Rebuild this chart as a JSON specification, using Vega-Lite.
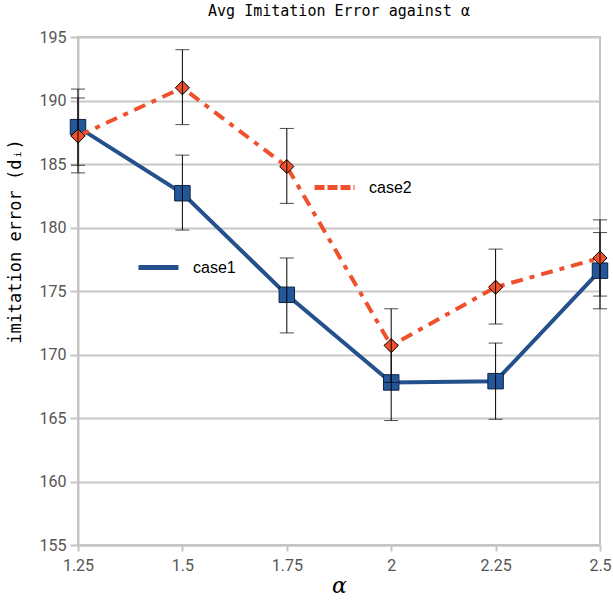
{
  "$schema": "https://vega.github.io/schema/vega-lite/v6.json",
  "width": 522,
  "height": 508,
  "autosize": {"type": "none"},
  "padding": {"left": 78, "top": 37, "right": 13, "bottom": 56},
  "background": "white",
  "config": {
    "view": {"stroke": "#c4c4c4", "strokeWidth": 2},
    "axis": {"labelFont": "Roboto", "labelFontSize": 16, "labelColor": "#555555", "domainColor": "#c4c4c4", "tickColor": "#c4c4c4", "gridColor": "#c8c8c8", "domainWidth": 2, "tickWidth": 2, "gridWidth": 2}
  },
  "title": {"text": "Avg Imitation Error against α", "font": "DejaVu Sans Mono", "fontSize": 15, "fontWeight": "normal", "color": "#000000", "anchor": "middle", "offset": 10},
  "data": {"values": [
    {"alpha": 1.25, "error": 187.9, "lo": 184.9, "hi": 190.9, "case": "case1"},
    {"alpha": 1.5, "error": 182.7, "lo": 179.8, "hi": 185.7, "case": "case1"},
    {"alpha": 1.75, "error": 174.7, "lo": 171.7, "hi": 177.6, "case": "case1"},
    {"alpha": 2.0, "error": 167.8, "lo": 164.8, "hi": 170.8, "case": "case1"},
    {"alpha": 2.25, "error": 167.9, "lo": 164.9, "hi": 170.9, "case": "case1"},
    {"alpha": 2.5, "error": 176.6, "lo": 173.6, "hi": 179.6, "case": "case1"},
    {"alpha": 1.25, "error": 187.2, "lo": 184.3, "hi": 190.2, "case": "case2"},
    {"alpha": 1.5, "error": 191.0, "lo": 188.1, "hi": 194.0, "case": "case2"},
    {"alpha": 1.75, "error": 184.8, "lo": 181.9, "hi": 187.8, "case": "case2"},
    {"alpha": 2.0, "error": 170.7, "lo": 167.8, "hi": 173.6, "case": "case2"},
    {"alpha": 2.25, "error": 175.3, "lo": 172.4, "hi": 178.3, "case": "case2"},
    {"alpha": 2.5, "error": 177.6, "lo": 174.6, "hi": 180.6, "case": "case2"}
  ]},
  "encoding": {
    "x": {"field": "alpha", "type": "quantitative", "scale": {"domain": [1.25, 2.5], "nice": false, "zero": false},
      "axis": {"values": [1.25, 1.5, 1.75, 2, 2.25, 2.5], "labelExpr": "format(datum.value, '.2~f')", "grid": false, "tickSize": 6, "labelPadding": 6, "labelFlush": false,
        "title": "α", "titleFont": "DejaVu Serif", "titleFontStyle": "italic", "titleFontWeight": "normal", "titleFontSize": 22, "titleColor": "#000000", "titlePadding": 2}}
  },
  "layer": [
    {
      "transform": [{"filter": "datum.case === 'case1'"}],
      "layer": [
        {"mark": {"type": "line", "strokeWidth": 4},
         "encoding": {
           "y": {"field": "error", "type": "quantitative", "title": "imitation error (dᵢ)", "scale": {"domain": [155, 195], "nice": false, "zero": false},
             "axis": {"values": [155, 160, 165, 170, 175, 180, 185, 190, 195], "tickSize": 8, "labelPadding": 4,
               "titleFont": "DejaVu Sans Mono", "titleFontSize": 17, "titleFontWeight": "normal", "titleColor": "#000000",
               "titleAngle": -90, "titleX": -63, "titleY": 204, "titleAlign": "center", "titleBaseline": "middle"}},
           "color": {"field": "case", "type": "nominal", "scale": {"range": ["#24508c"]},
             "legend": {"orient": "none", "legendX": 58, "legendY": 208, "title": null, "symbolType": "stroke", "symbolSize": 1600, "symbolStrokeWidth": 5, "labelFont": "Liberation Sans", "labelFontSize": 16, "labelColor": "#000000", "labelOffset": 12, "padding": 0}}
         }},
        {"mark": {"type": "point", "shape": "square", "filled": true, "size": 240, "fill": "#23579a", "stroke": "#0f2440", "strokeWidth": 1, "opacity": 1},
         "encoding": {"y": {"field": "error", "type": "quantitative", "title": "imitation error (dᵢ)"}}},
        {"mark": {"type": "errorbar", "ticks": {"size": 14, "color": "#000000", "thickness": 1}, "color": "#000000", "thickness": 1},
         "encoding": {"y": {"field": "lo", "type": "quantitative", "title": "imitation error (dᵢ)"}, "y2": {"field": "hi"}}}
      ]
    },
    {
      "transform": [{"filter": "datum.case === 'case2'"}],
      "layer": [
        {"mark": {"type": "line", "strokeWidth": 4, "strokeDash": [12, 7, 5, 7]},
         "encoding": {
           "y": {"field": "error", "type": "quantitative", "title": "imitation error (dᵢ)"},
           "color": {"field": "case", "type": "nominal", "scale": {"range": ["#f0502c"]},
             "legend": {"orient": "none", "legendX": 234, "legendY": 128, "title": null, "symbolType": "stroke", "symbolSize": 1600, "symbolStrokeWidth": 5, "symbolDash": [10, 3], "labelFont": "Liberation Sans", "labelFontSize": 16, "labelColor": "#000000", "labelOffset": 12, "padding": 0}}
         }},
        {"mark": {"type": "point", "shape": "diamond", "filled": true, "size": 200, "fill": "#f0502c", "stroke": "#000000", "strokeWidth": 1, "opacity": 1},
         "encoding": {"y": {"field": "error", "type": "quantitative", "title": "imitation error (dᵢ)"}}},
        {"mark": {"type": "errorbar", "ticks": {"size": 14, "color": "#000000", "thickness": 1}, "color": "#000000", "thickness": 1},
         "encoding": {"y": {"field": "lo", "type": "quantitative", "title": "imitation error (dᵢ)"}, "y2": {"field": "hi"}}}
      ]
    }
  ],
  "resolve": {"scale": {"color": "independent"}}
}
